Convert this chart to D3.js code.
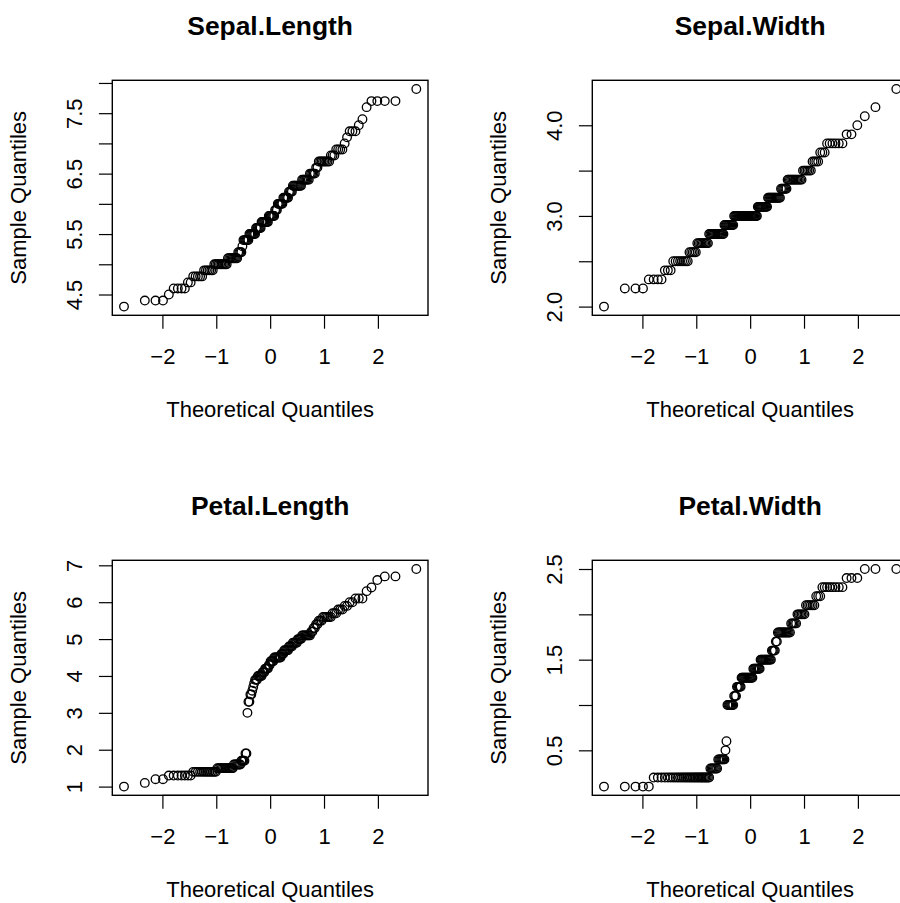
<!DOCTYPE html>
<html>
<head>
<meta charset="utf-8">
<script src="https://cdn.jsdelivr.net/npm/d3@7"></script>
<style>
  html, body { margin: 0; padding: 0; background: #fff; }
  svg { display: block; }
</style>
</head>
<body>
<svg id="chart" width="900" height="903"></svg>
<script>
// ---- Data: iris measurements (distinct value, count) ----
const panels = ["Sepal.Length", "Sepal.Width", "Petal.Length", "Petal.Width"];

const sepalLengthValues = [4.3,4.4,4.5,4.6,4.7,4.8,4.9,5.0,5.1,5.2,5.3,5.4,5.5,5.6,5.7,5.8,5.9,6.0,6.1,6.2,6.3,6.4,6.5,6.6,6.7,6.8,6.9,7.0,7.1,7.2,7.3,7.4,7.6,7.7,7.9];
const sepalLengthCounts = [1,3,1,4,2,5,6,10,9,4,1,6,7,6,8,7,3,6,6,4,9,7,5,2,8,3,4,1,1,3,1,1,1,4,1];

const sepalWidthValues = [2.0,2.2,2.3,2.4,2.5,2.6,2.7,2.8,2.9,3.0,3.1,3.2,3.3,3.4,3.5,3.6,3.7,3.8,3.9,4.0,4.1,4.2,4.4];
const sepalWidthCounts = [1,3,4,3,8,5,9,14,10,26,11,13,6,12,6,4,3,6,2,1,1,1,1];

const petalLengthValues = [1.0,1.1,1.2,1.3,1.4,1.5,1.6,1.7,1.9,3.0,3.3,3.5,3.6,3.7,3.8,3.9,4.0,4.1,4.2,4.3,4.4,4.5,4.6,4.7,4.8,4.9,5.0,5.1,5.2,5.3,5.4,5.5,5.6,5.7,5.8,5.9,6.0,6.1,6.3,6.4,6.6,6.7,6.9];
const petalLengthCounts = [1,1,2,7,13,13,7,4,2,1,2,2,1,1,1,3,5,3,4,2,4,8,3,5,4,5,4,8,2,2,2,3,6,3,3,2,2,3,1,1,1,2,1];

const petalWidthValues = [0.1,0.2,0.3,0.4,0.5,0.6,1.0,1.1,1.2,1.3,1.4,1.5,1.6,1.7,1.8,1.9,2.0,2.1,2.2,2.3,2.4,2.5];
const petalWidthCounts = [5,29,7,7,1,1,7,3,5,13,8,12,4,2,12,5,6,6,3,8,3,3];

// ---- Axis ticks ----
const xTicks = [-2, -1, 0, 1, 2];
const sepalLengthTicks = [4.5,5.0,5.5,6.0,6.5,7.0,7.5,8.0];
const sepalLengthLabels = ["4.5","","5.5","","6.5","","7.5",""];
const sepalWidthTicks = [2.0,2.5,3.0,3.5,4.0];
const sepalWidthLabels = ["2.0","","3.0","","4.0"];
const petalLengthTicks = [1,2,3,4,5,6,7];
const petalLengthLabels = ["1","2","3","4","5","6","7"];
const petalWidthTicks = [0.5,1.0,1.5,2.0,2.5];
const petalWidthLabels = ["0.5","","1.5","","2.5"];

const titleText = panels;
const xLabel = "Theoretical Quantiles";
const yLabel = "Sample Quantiles";

// ---- Helpers ----
function expand(values, counts) {
  const out = [];
  values.forEach((v, i) => { for (let k = 0; k < counts[i]; k++) out.push(v); });
  return out.sort((a, b) => a - b);
}
// inverse standard normal CDF (Acklam)
function qnorm(p) {
  const a = [-3.969683028665376e+01, 2.209460984245205e+02, -2.759285104469687e+02, 1.383577518672690e+02, -3.066479806614716e+01, 2.506628277459239e+00];
  const b = [-5.447609879822406e+01, 1.615858368580409e+02, -1.556989798598866e+02, 6.680131188771972e+01, -1.328068155288572e+01];
  const c = [-7.784894002430293e-03, -3.223964580411365e-01, -2.400758277161838e+00, -2.549732539343734e+00, 4.374664141464968e+00, 2.938163982698783e+00];
  const d = [7.784695709041462e-03, 3.224671290700398e-01, 2.445134137142996e+00, 3.754408661907416e+00];
  const pl = 0.02425, ph = 1 - pl;
  let q, r;
  if (p < pl) {
    q = Math.sqrt(-2 * Math.log(p));
    return (((((c[0]*q+c[1])*q+c[2])*q+c[3])*q+c[4])*q+c[5]) / ((((d[0]*q+d[1])*q+d[2])*q+d[3])*q+1);
  } else if (p <= ph) {
    q = p - 0.5; r = q * q;
    return (((((a[0]*r+a[1])*r+a[2])*r+a[3])*r+a[4])*r+a[5])*q / (((((b[0]*r+b[1])*r+b[2])*r+b[3])*r+b[4])*r+1);
  } else {
    q = Math.sqrt(-2 * Math.log(1 - p));
    return -(((((c[0]*q+c[1])*q+c[2])*q+c[3])*q+c[4])*q+c[5]) / ((((d[0]*q+d[1])*q+d[2])*q+d[3])*q+1);
  }
}
function qqPoints(sample) {
  const n = sample.length, a = n <= 10 ? 3/8 : 1/2;
  return sample.map((y, i) => ({ x: qnorm((i + 1 - a) / (n + 1 - 2 * a)), y }));
}
function padded(ext) {
  const r = ext[1] - ext[0];
  return [ext[0] - 0.04 * r, ext[1] + 0.04 * r];
}

const datasets = [
  { values: sepalLengthValues, counts: sepalLengthCounts, ticks: sepalLengthTicks, labels: sepalLengthLabels },
  { values: sepalWidthValues, counts: sepalWidthCounts, ticks: sepalWidthTicks, labels: sepalWidthLabels },
  { values: petalLengthValues, counts: petalLengthCounts, ticks: petalLengthTicks, labels: petalLengthLabels },
  { values: petalWidthValues, counts: petalWidthCounts, ticks: petalWidthTicks, labels: petalWidthLabels }
];

// ---- Layout ----
const svg = d3.select("#chart");
const FONT = "'Liberation Sans', Arial, Helvetica, sans-serif";
const cellW = 480, cellH = 480;
const boxL = 112.3, boxR = 428, boxT = 80.3, boxB = 315.3;
const tickLen = 13.4;

datasets.forEach((ds, idx) => {
  const col = idx % 2, row = Math.floor(idx / 2);
  const g = svg.append("g").attr("transform", `translate(${col * cellW},${row * cellH})`);
  const pts = qqPoints(expand(ds.values, ds.counts));

  const x = d3.scaleLinear().domain(padded(d3.extent(pts, d => d.x))).range([boxL, boxR]);
  const y = d3.scaleLinear().domain(padded(d3.extent(pts, d => d.y))).range([boxB, boxT]);

  // points
  g.append("g").selectAll("circle").data(pts).join("circle")
    .attr("cx", d => x(d.x)).attr("cy", d => y(d.y)).attr("r", 4.3)
    .attr("fill", "none").attr("stroke", "#000").attr("stroke-width", 1.3);

  // x axis
  const xa = g.append("g").attr("transform", `translate(0,${boxB})`)
    .call(d3.axisBottom(x).tickValues(xTicks).tickSize(tickLen).tickSizeOuter(0)
      .tickFormat(d => d < 0 ? "\u2212" + Math.abs(d) : String(d)));
  xa.select(".domain").remove();
  xa.selectAll(".tick line").attr("stroke", "#000").attr("stroke-width", 1.2);
  xa.selectAll(".tick text").attr("y", 48.7).attr("dy", 0)
    .attr("font-family", FONT).attr("font-size", 22).attr("fill", "#000");
  g.append("line").attr("x1", x(xTicks[0])).attr("x2", x(xTicks[xTicks.length - 1]))
    .attr("y1", boxB).attr("y2", boxB).attr("stroke", "#000").attr("stroke-width", 1.2);

  // y axis
  const ya = g.append("g").attr("transform", `translate(${boxL},0)`)
    .call(d3.axisLeft(y).tickValues(ds.ticks).tickSize(tickLen).tickSizeOuter(0)
      .tickFormat((d, i) => ds.labels[i]));
  ya.select(".domain").remove();
  ya.selectAll(".tick line").attr("stroke", "#000").attr("stroke-width", 1.2);
  ya.selectAll(".tick text")
    .attr("x", null).attr("dy", null)
    .attr("transform", "translate(-30.8,0) rotate(-90)")
    .attr("text-anchor", "middle")
    .attr("font-family", FONT).attr("font-size", 22).attr("fill", "#000");

  // box
  g.append("rect").attr("x", boxL).attr("y", boxT)
    .attr("width", boxR - boxL).attr("height", boxB - boxT)
    .attr("fill", "none").attr("stroke", "#000").attr("stroke-width", 1.4);

  const cx = (boxL + boxR) / 2;
  // title
  g.append("text").attr("x", cx).attr("y", 35).attr("text-anchor", "middle")
    .attr("font-family", FONT).attr("font-weight", "bold").attr("font-size", 26.4)
    .attr("fill", "#000").text(titleText[idx]);
  // x label
  g.append("text").attr("x", cx).attr("y", 416.7).attr("text-anchor", "middle")
    .attr("font-family", FONT).attr("font-size", 22).attr("fill", "#000").text(xLabel);
  // y label
  g.append("text").attr("transform", `translate(26.3,${(boxT + boxB) / 2}) rotate(-90)`)
    .attr("text-anchor", "middle")
    .attr("font-family", FONT).attr("font-size", 22).attr("fill", "#000").text(yLabel);
});
</script>
</body>
</html>
